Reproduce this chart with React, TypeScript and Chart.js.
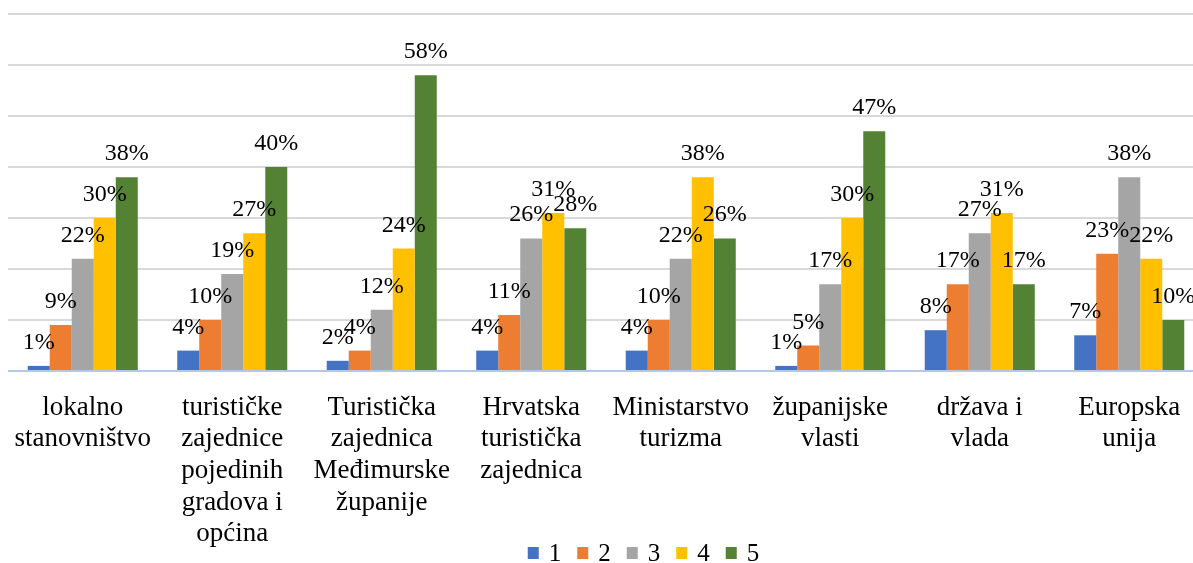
import React, { useEffect, useRef } from 'react';
import { Chart, registerables } from 'chart.js';

Chart.register(...registerables);

const categories: string[][] = [
  ['lokalno', 'stanovništvo'],
  ['turističke', 'zajednice', 'pojedinih', 'gradova i', 'općina'],
  ['Turistička', 'zajednica', 'Međimurske', 'županije'],
  ['Hrvatska', 'turistička', 'zajednica'],
  ['Ministarstvo', 'turizma'],
  ['županijske', 'vlasti'],
  ['država i', 'vlada'],
  ['Europska', 'unija'],
];

const seriesNames = ['1', '2', '3', '4', '5'];
const series1 = [1, 4, 2, 4, 4, 1, 8, 7];
const series2 = [9, 10, 4, 11, 10, 5, 17, 23];
const series3 = [22, 19, 12, 26, 22, 17, 27, 38];
const series4 = [30, 27, 24, 31, 38, 30, 31, 22];
const series5 = [38, 40, 58, 28, 26, 47, 17, 10];
const seriesColors = ['#4472C4', '#ED7D31', '#A5A5A5', '#FFC000', '#548235'];
const yTicks = [0, 10, 20, 30, 40, 50, 60, 70];

const FONT = '"Liberation Serif", "Times New Roman", serif';

const dataLabelPlugin = {
  id: 'dataLabels',
  afterDatasetsDraw(chart: any) {
    const ctx = chart.ctx;
    ctx.save();
    ctx.font = `24px ${FONT}`;
    ctx.fillStyle = '#000';
    ctx.textAlign = 'center';
    ctx.textBaseline = 'alphabetic';
    chart.data.datasets.forEach((ds: any, di: number) => {
      const meta = chart.getDatasetMeta(di);
      meta.data.forEach((el: any, i: number) => {
        ctx.fillText(`${ds.data[i]}%`, el.x, el.y - 17);
      });
    });
    ctx.restore();
  },
};

const legendPlugin = {
  id: 'customLegend',
  afterDraw(chart: any) {
    const ctx = chart.ctx;
    ctx.save();
    ctx.font = `25px ${FONT}`;
    ctx.textBaseline = 'alphabetic';
    ctx.textAlign = 'left';
    const box = 11;
    const gap = 11;
    const itemGap = 15;
    const items = chart.data.datasets.map((ds: any) => ({
      label: ds.label,
      color: ds.backgroundColor,
      w: box + gap + ctx.measureText(ds.label).width,
    }));
    const total = items.reduce((a: number, it: any) => a + it.w, 0) + itemGap * (items.length - 1);
    let x = 644 - total / 2;
    const baseY = 561;
    items.forEach((it: any) => {
      ctx.fillStyle = it.color;
      ctx.fillRect(x, 547, box, 12);
      ctx.fillStyle = '#000';
      ctx.fillText(it.label, x + box + gap - 1, baseY);
      x += it.w + itemGap;
    });
    ctx.restore();
  },
};

export default function App() {
  const ref = useRef<HTMLCanvasElement>(null);
  useEffect(() => {
    if (!ref.current) return;
    const allSeries = [series1, series2, series3, series4, series5];
    const chart = new Chart(ref.current, {
      type: 'bar',
      data: {
        labels: categories,
        datasets: allSeries.map((d, i) => ({
          label: seriesNames[i],
          data: d,
          backgroundColor: seriesColors[i],
          borderWidth: 0,
          barPercentage: 1,
          categoryPercentage: 0.736,
        })),
      },
      options: {
        responsive: false,
        animation: false,
        layout: { padding: { left: 8, right: 6, top: 14, bottom: 0 } },
        plugins: {
          legend: { display: false },
          tooltip: { enabled: false },
        },
        scales: {
          x: {
            grid: { display: false, drawTicks: false },
            border: { display: false },
            ticks: {
              color: '#000',
              font: { family: FONT, size: 27, lineHeight: 1.17 },
              padding: 21,
              maxRotation: 0,
              autoSkip: false,
            },
            afterFit: (scale: any) => {
              scale.height = 192;
              scale.paddingLeft = 0;
              scale.paddingRight = 0;
            },
          },
          y: {
            min: 0,
            max: 70,
            afterBuildTicks: (scale: any) => {
              scale.ticks = yTicks.map((v) => ({ value: v }));
            },
            grid: {
              color: (c: any) => (c.tick && c.tick.value === 0 ? '#B4C7E7' : '#D9D9D9'),
              lineWidth: 2,
              drawTicks: false,
            },
            border: { display: false },
            ticks: { display: false },
          },
        },
      },
      plugins: [dataLabelPlugin, legendPlugin],
    });
    return () => chart.destroy();
  }, []);
  return (
    <div style={{ position: 'fixed', left: 0, top: 0, width: 1193, height: 563, overflow: 'hidden', background: '#fff' }}>
      <canvas ref={ref} width={1210} height={563} style={{ display: 'block' }} />
    </div>
  );
}
